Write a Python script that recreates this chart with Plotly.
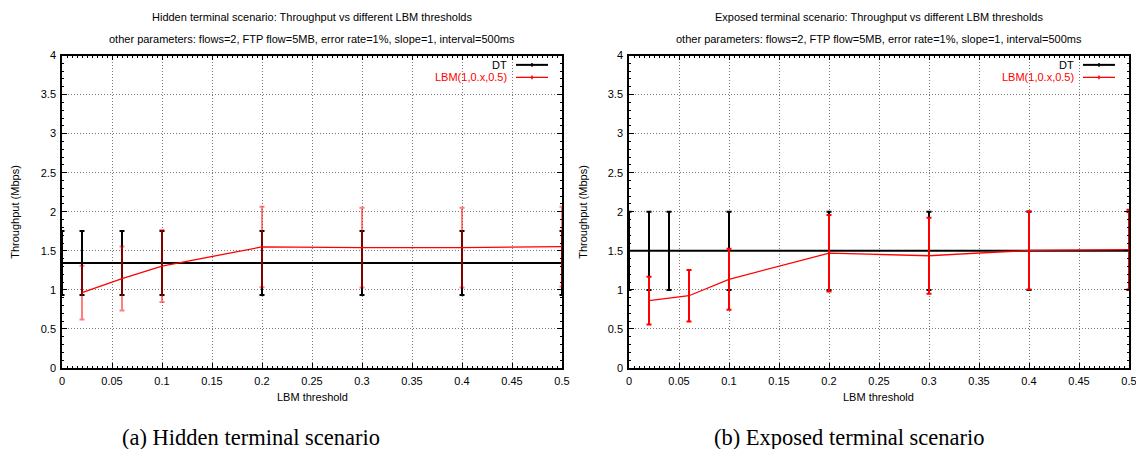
import plotly.graph_objects as go

# ---------------- data ----------------
# (a) Hidden terminal scenario
hid_dt_x = [0, 0.02, 0.06, 0.1, 0.2, 0.3, 0.4, 0.5]
hid_dt_y = [1.345, 1.345, 1.345, 1.345, 1.345, 1.345, 1.345, 1.345]
hid_dt_err = [0.41, 0.41, 0.41, 0.41, 0.41, 0.41, 0.41, 0.41]

hid_lbm_x = [0.02, 0.06, 0.1, 0.2, 0.3, 0.4, 0.5]
hid_lbm_y = [0.965, 1.145, 1.305, 1.55, 1.54, 1.54, 1.553]
hid_lbm_err = [0.345, 0.41, 0.46, 0.515, 0.51, 0.51, 0.51]

# (b) Exposed terminal scenario
exp_dt_x = [0, 0.02, 0.04, 0.1, 0.2, 0.3, 0.4, 0.5]
exp_dt_y = [1.5, 1.5, 1.5, 1.5, 1.5, 1.5, 1.5, 1.5]
exp_dt_err = [0.5, 0.5, 0.5, 0.5, 0.5, 0.5, 0.5, 0.5]

exp_lbm_x = [0.02, 0.06, 0.1, 0.2, 0.3, 0.4, 0.5]
exp_lbm_y = [0.862, 0.925, 1.135, 1.47, 1.437, 1.505, 1.515]
exp_lbm_err = [0.305, 0.33, 0.39, 0.49, 0.487, 0.5, 0.51]

x_tickvals = [0, 0.05, 0.1, 0.15, 0.2, 0.25, 0.3, 0.35, 0.4, 0.45, 0.5]
x_ticktext = ["0", "0.05", "0.1", "0.15", "0.2", "0.25", "0.3", "0.35", "0.4", "0.45", "0.5"]
y_tickvals = [0, 0.5, 1, 1.5, 2, 2.5, 3, 3.5, 4]
y_ticktext = ["0", "0.5", "1", "1.5", "2", "2.5", "3", "3.5", "4"]

series_names = ["DT", "LBM(1,0.x,0.5)"]
titles = [
    "Hidden terminal scenario: Throughput vs different LBM thresholds",
    "Exposed terminal scenario: Throughput vs different LBM thresholds",
]
subtitle = "other parameters: flows=2, FTP flow=5MB, error rate=1%, slope=1, interval=500ms"
captions = ["(a) Hidden terminal scenario", "(b) Exposed terminal scenario"]
x_title = "LBM threshold"
y_title = "Throughput (Mbps)"

# ---------------- layout geometry ----------------
# The page body has a default 8px margin, so the figure is drawn 8px in
# from the window edge; positions below are given in window pixels.
OFF = 8
W, H = 1144 - 2 * OFF, 457 - 2 * OFF
FONT = "Liberation Sans, Arial, sans-serif"
px_x = lambda p: (p - OFF) / W
px_y = lambda p: 1 - (p - OFF) / H

dom1 = [px_x(62), px_x(562)]
dom2 = [px_x(629), px_x(1129)]
ydom = [px_y(368), px_y(55.5)]

fig = go.Figure()


def add_panel(xa, ya, dtx, dty, dte, lx, ly, le, errcol):
    fig.add_trace(go.Scatter(
        x=dtx, y=dty, mode="lines", name=series_names[0],
        line=dict(color="black", width=2),
        error_y=dict(type="data", array=dte, color="black", thickness=2, width=2.5),
        xaxis=xa, yaxis=ya, showlegend=False, cliponaxis=False,
    ))
    fig.add_trace(go.Scatter(
        x=lx, y=ly, mode="lines", name=series_names[1],
        line=dict(color="#ff0000", width=1.3),
        error_y=dict(type="data", array=le, color=errcol, thickness=2, width=2.5),
        xaxis=xa, yaxis=ya, showlegend=False, cliponaxis=False,
    ))


add_panel("x", "y", hid_dt_x, hid_dt_y, hid_dt_err, hid_lbm_x, hid_lbm_y, hid_lbm_err,
          "rgba(255,0,0,0.5)")
add_panel("x2", "y2", exp_dt_x, exp_dt_y, exp_dt_err, exp_lbm_x, exp_lbm_y, exp_lbm_err,
          "#ff0000")

axis_common = dict(
    showline=True, linecolor="black", linewidth=1.5, mirror="allticks",
    ticks="inside", ticklen=5, tickwidth=1, tickcolor="black",
    showgrid=True, gridcolor="#7a7a7a", gridwidth=1, griddash="1px,2px",
    zeroline=False, tickfont=dict(family=FONT, size=11, color="black"),
    tickmode="array", automargin=False, ticklabeloverflow="allow",
)

xa = dict(axis_common, range=[0, 0.5], tickvals=x_tickvals, ticktext=x_ticktext,
          ticklabelstandoff=2,
          minor=dict(tickmode="linear", tick0=0, dtick=0.005, ticks="inside",
                     ticklen=2.5, tickcolor="black", showgrid=False))
ya = dict(axis_common, range=[0, 4], tickvals=y_tickvals, ticktext=y_ticktext,
          ticklabelstandoff=2,
          minor=dict(tickmode="linear", tick0=0, dtick=0.1, ticks="inside",
                     ticklen=2.5, tickcolor="black", showgrid=False))

fig.update_layout(
    width=W, height=H,
    margin=dict(l=0, r=0, t=0, b=0, pad=0, autoexpand=False),
    paper_bgcolor="white", plot_bgcolor="white",
    showlegend=False,
    xaxis=dict(xa, domain=dom1, anchor="y"),
    yaxis=dict(ya, domain=ydom, anchor="x"),
    xaxis2=dict(xa, domain=dom2, anchor="y2"),
    yaxis2=dict(ya, domain=ydom, anchor="x2"),
)

annots = []
shapes = []
for i, dom in enumerate([dom1, dom2]):
    cx = (dom[0] + dom[1]) / 2
    annots.append(dict(x=cx, y=px_y(16.7), xref="paper", yref="paper", text=titles[i],
                       showarrow=False, xanchor="center", yanchor="middle",
                       font=dict(family=FONT, size=11, color="black")))
    annots.append(dict(x=cx, y=px_y(38.5), xref="paper", yref="paper", text=subtitle,
                       showarrow=False, xanchor="center", yanchor="middle",
                       font=dict(family=FONT, size=11, color="black")))
    annots.append(dict(x=cx, y=px_y(397), xref="paper", yref="paper", text=x_title,
                       showarrow=False, xanchor="center", yanchor="middle",
                       font=dict(family=FONT, size=11, color="black")))
    ylx = 15 if i == 0 else 583
    annots.append(dict(x=px_x(ylx), y=(ydom[0] + ydom[1]) / 2, xref="paper", yref="paper",
                       text=y_title, textangle=-90, showarrow=False,
                       xanchor="center", yanchor="middle",
                       font=dict(family=FONT, size=11, color="black")))
    # legend (gnuplot style: text right-aligned, sample on the right)
    xr = "x domain" if i == 0 else "x2 domain"
    yr = "y domain" if i == 0 else "y2 domain"
    for j, (name, col) in enumerate(zip(series_names, ["black", "#ff0000"])):
        ly = 0.970 - j * 0.040
        annots.append(dict(x=0.894, y=ly, xref=xr, yref=yr, text=name, showarrow=False,
                           xanchor="right", yanchor="middle",
                           font=dict(family=FONT, size=11, color=col)))
        shapes.append(dict(type="line", xref=xr, yref=yr, x0=0.908, x1=0.972, y0=ly, y1=ly,
                           line=dict(color=col, width=2 if j == 0 else 1.3)))
        shapes.append(dict(type="line", xref=xr, yref=yr, x0=0.94, x1=0.94,
                           y0=ly - 0.006, y1=ly + 0.006, line=dict(color=col, width=1.5)))
    capx = 251 if i == 0 else 849
    annots.append(dict(x=px_x(capx), y=px_y(437), xref="paper", yref="paper", text=captions[i],
                       showarrow=False, xanchor="center", yanchor="middle",
                       font=dict(family="Liberation Serif, DejaVu Serif, serif", size=22.5,
                                 color="black")))

fig.update_layout(annotations=annots, shapes=shapes)
fig.write_html("out.html")
